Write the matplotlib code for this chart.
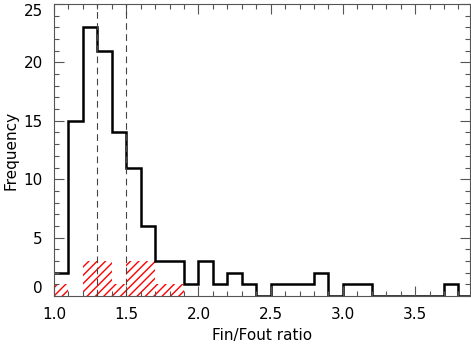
import numpy as np
import matplotlib
matplotlib.use("Agg")
import matplotlib.pyplot as plt
from matplotlib.ticker import MultipleLocator

# Bin edges (width 0.1) and counts
bin_edges = [1.0, 1.1, 1.2, 1.3, 1.4, 1.5, 1.6, 1.7, 1.8, 1.9, 2.0, 2.1, 2.2, 2.3, 2.4,
             2.5, 2.6, 2.7, 2.8, 2.9, 3.0, 3.1, 3.2, 3.3, 3.4, 3.5, 3.6, 3.7, 3.8, 3.9]
all_counts = [2, 15, 23, 21, 14, 11, 6, 3, 3, 1, 3, 1, 2, 1, 0,
              1, 1, 1, 2, 0, 1, 1, 0, 0, 0, 0, 0, 1, 0]
sub_counts = [1, 0, 3, 3, 1, 3, 3, 1, 1, 0, 0, 0, 0, 0, 0,
              0, 0, 0, 0, 0, 0, 0, 0, 0, 0, 0, 0, 0, 0]
vlines_x = [1.3, 1.5]
yticks = [0, 5, 10, 15, 20, 25]
xticks = [1.0, 1.5, 2.0, 2.5, 3.0, 3.5]

plt.rcParams['hatch.linewidth'] = 1.0
fig = plt.figure(figsize=(4.71, 3.47), dpi=100)
ax = fig.add_axes([54/471, 1 - 296/347, (470-54)/471, (296-4)/347])

ax.stairs(sub_counts, bin_edges, fill=True, facecolor='none', edgecolor='red',
          hatch='////', linewidth=0)
ax.stairs(all_counts, bin_edges, color='black', linewidth=1.8, baseline=None)
for xv in vlines_x:
    ax.axvline(xv, color='#444444', linestyle=(0, (6, 4)), linewidth=0.8)

ax.set_xlim(1.0, 3.88)
ax.set_ylim(0, 25)
ax.set_xticks(xticks, [f'{v:.1f}' for v in xticks])
ax.set_yticks(yticks, [str(v) for v in yticks])
ax.xaxis.set_minor_locator(MultipleLocator(0.1))
ax.yaxis.set_minor_locator(MultipleLocator(1))
ax.tick_params(which='both', direction='in', top=True, right=True, color='#555555',
               labelsize=11, width=0.8)
ax.tick_params(which='major', length=7, pad=8)
ax.tick_params(which='minor', length=3.5)
for s in ax.spines.values():
    s.set_color('#555555')
    s.set_linewidth(0.8)
ax.set_xlabel('Fin/Fout ratio', fontsize=11)
ax.set_ylabel('Frequency', fontsize=11)

ticks = ax.yaxis.get_major_ticks()
ticks[0].label1.set_verticalalignment('bottom')
ticks[-1].label1.set_verticalalignment('top')
fig.savefig('out.png', dpi=100)
